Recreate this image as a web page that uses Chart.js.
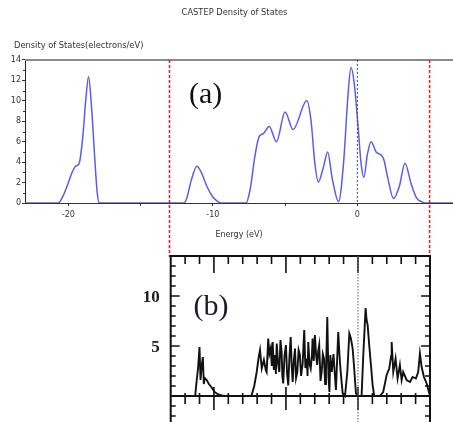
<!DOCTYPE html>
<html>
<head>
<meta charset="utf-8">
<title>CASTEP Density of States</title>
<script src="https://cdn.jsdelivr.net/npm/chart.js@4.4.0/dist/chart.umd.min.js"></script>
<style>
    html, body { margin: 0; padding: 0; background: #fff; }
    #wrap { position: relative; width: 453px; height: 422px; overflow: hidden; }
    #dosA { position: absolute; left: 0; top: 0; }
    #dosB { position: absolute; left: 130px; top: 240px; }
</style>
</head>
<body>
<div id="wrap">
    <canvas id="dosA" width="453" height="257"></canvas>
    <canvas id="dosB" width="323" height="182"></canvas>
</div>
<script>
// panel (a): CASTEP total DOS
var energyA = [-23, -21, -20.7, -20.4, -20.1, -19.8, -19.5, -19.25, -19.0, -18.8, -18.6, -18.4, -18.2, -18.0, -17.85,
    -13, -12.0, -11.8, -11.5, -11.1, -10.8, -10.4, -10.0, -9.6, -9.4,
    -7.7, -7.4, -7.1, -6.8, -6.5, -6.1, -5.6, -5.0, -4.45, -3.5, -3.2, -2.95, -2.7, -2.35, -2.05, -1.75, -1.3,
    -0.95, -0.65, -0.44, -0.2, 0.05, 0.25, 0.45, 0.7, 0.95, 1.3, 1.8, 2.1, 2.5, 2.9, 3.3, 3.7, 4.1, 4.5, 4.8, 6.62]
var dosA = [0, 0, 0, 0.6, 1.6, 2.8, 3.6, 3.9, 6.5, 10.0, 12.35, 9.5, 5.0, 1.0, 0,
    0, 0, 0.5, 2.2, 3.6, 3.0, 1.6, 0.6, 0.1, 0,
    0, 1.5, 4.5, 6.5, 6.8, 7.5, 6.0, 8.9, 7.2, 10.0, 8.0, 4.0, 2.05, 3.5, 5.0, 2.5, 0.15,
    4.0, 10.5, 13.25, 11.5, 7.5, 4.0, 2.5, 4.8, 6.0, 5.0, 4.4, 2.5, 0.45, 1.6, 3.9, 2.0, 0.5, 0.1, 0, 0]

// panel (b): reference DOS
var energyB = [-13, -11.3, -11.2, -11.1, -11.0, -10.93, -10.85, -10.77, -10.7, -10.64, -10.5, -10.35, -10.18, -9.95, -9.7, -9.45, -9.2,
    -7.4, -7.2, -7.03, -6.9, -6.8, -6.68, -6.53, -6.4, -6.34, -6.23, -6.15, -6.06, -5.98, -5.92, -5.84, -5.76, -5.7, -5.64,
    -5.55, -5.46, -5.38, -5.3, -5.25, -5.19, -5.1, -5.0, -4.92, -4.84, -4.76, -4.67, -4.6, -4.53, -4.45, -4.37, -4.3, -4.21,
    -4.12, -4.03, -3.95, -3.84, -3.73, -3.65, -3.56, -3.5, -3.45, -3.36, -3.28, -3.2, -3.15, -3.07, -2.99, -2.9, -2.83, -2.76,
    -2.69, -2.6, -2.52, -2.44, -2.36, -2.28, -2.22, -2.13, -2.05, -1.98, -1.92, -1.82, -1.7, -1.6, -1.53, -1.45, -1.37, -1.28,
    -1.2, -1.06, -0.9, -0.74, -0.6, -0.49, -0.37, -0.28, -0.14, 0.0, 0.25, 0.37, 0.53, 0.6, 0.67, 0.78, 0.9, 1.02, 1.13,
    1.52, 1.75, 1.99, 2.17, 2.3, 2.34, 2.45, 2.61, 2.75, 2.91, 3.03, 3.14, 3.38, 3.61, 3.79, 4.02, 4.18, 4.3, 4.42, 4.58,
    4.77, 4.95, 5.0]
var dosB = [0, 0, 1.5, 2.8, 4.9, 1.6, 3.0, 3.9, 1.2, 1.8, 1.6, 1.2, 0.9, 0.4, 0.15, 0.05, 0,
    0, 1.0, 2.4, 3.8, 4.6, 2.75, 3.6, 2.6, 2.4, 5.75, 4.2, 4.75, 3.0, 5.4, 2.6, 4.1, 2.2, 5.25,
    3.3, 2.4, 5.6, 4.4, 2.0, 1.25, 4.0, 5.1, 2.2, 1.07, 3.8, 5.9, 3.0, 1.4, 3.6, 4.75, 1.8, 2.4,
    4.6, 4.1, 2.0, 3.25, 6.6, 2.8, 3.75, 2.0, 5.4, 3.2, 2.75, 4.0, 5.75, 3.5, 6.1, 4.0, 3.1, 4.5,
    5.1, 1.5, 2.4, 4.2, 3.75, 1.2, 2.4, 7.9, 2.0, 0.4, 4.1, 2.4, 4.2, 2.0, 0.6, 3.5, 6.4, 4.0,
    2.4, 0.25, 0, 2.4, 6.25, 5.75, 4.75, 3.1, 0.25, 0, 0, 4.1, 8.8, 7.6, 7.1, 5.1, 3.1, 1.07, 0,
    0, 0.4, 2.1, 2.75, 4.0, 5.4, 2.4, 3.75, 1.75, 3.1, 1.6, 2.4, 1.6, 1.4, 1.9, 1.75, 2.4, 4.25, 2.9, 1.9,
    1.25, 0.25, 0.1]

var xTicksA = [-20, -15, -10, -5, 0]
var xLabelsA = ['-20', '', '-10', '', '0']
var yTicksB = [5, 10]
var windowB = [-13, 5]   // energy window shown in panel (b)
var fermi = 0

Chart.defaults.font.family = "'DejaVu Sans', sans-serif"
Chart.defaults.color = '#333'
Chart.defaults.animation = false

function toXY(xs, ys) {
    return xs.map(function (e, i) { return { x: e, y: ys[i] } })
}

function seg(ctx, x1, y1, x2, y2) {
    ctx.moveTo(x1, y1)
    ctx.lineTo(x2, y2)
}

const frameA = {
    id: 'frameA',
    afterDraw(chart) {
        const { ctx, chartArea: a } = chart
        const x = chart.scales.x, y = chart.scales.y
        ctx.save()
        // grey top border
        ctx.strokeStyle = '#8a8a8a'
        ctx.lineWidth = 2
        ctx.beginPath()
        seg(ctx, a.left, a.top, a.right, a.top)
        ctx.stroke()
        // minor y ticks
        ctx.strokeStyle = '#333'
        ctx.lineWidth = 1
        ctx.beginPath()
        for (let v = 1; v < 14; v += 2) {
            const py = Math.round(y.getPixelForValue(v)) + 0.5
            seg(ctx, a.left - 2, py, a.left, py)
        }
        ctx.stroke()
        // Fermi level
        ctx.setLineDash([2, 2])
        ctx.strokeStyle = '#444'
        ctx.beginPath()
        const pf = x.getPixelForValue(fermi)
        seg(ctx, pf, a.top, pf, a.bottom)
        ctx.stroke()
        // window of panel (b)
        ctx.setLineDash([3, 2])
        ctx.strokeStyle = '#e2262b'
        ctx.lineWidth = 1.6
        ctx.beginPath()
        windowB.forEach(function (e) {
            const px = x.getPixelForValue(e)
            seg(ctx, px, a.top, px, chart.height)
        })
        ctx.stroke()
        ctx.setLineDash([])
        // headings
        ctx.fillStyle = '#333'
        ctx.font = "8.3px 'DejaVu Sans', sans-serif"
        ctx.textBaseline = 'middle'
        ctx.textAlign = 'center'
        ctx.fillText('CASTEP Density of States', (a.left + a.right) / 2 - 4.5, 13)
        ctx.textAlign = 'left'
        ctx.fillText('Density of States(electrons/eV)', a.left - 11, a.top - 14)
        // panel label
        ctx.fillStyle = '#111'
        ctx.font = "30px 'Liberation Serif', serif"
        ctx.textAlign = 'center'
        ctx.fillText('(a)', x.getPixelForValue(-10.5), y.getPixelForValue(10.6))
        ctx.restore()
    }
}

const frameB = {
    id: 'frameB',
    afterDraw(chart) {
        const { ctx, chartArea: a } = chart
        const x = chart.scales.x, y = chart.scales.y
        const y0 = y.getPixelForValue(0)
        ctx.save()
        ctx.strokeStyle = '#111'
        ctx.lineWidth = 2
        ctx.beginPath()
        ctx.moveTo(a.left, a.bottom)
        ctx.lineTo(a.left, a.top)
        ctx.lineTo(a.right, a.top)
        ctx.lineTo(a.right, a.bottom)
        seg(ctx, a.left, y0, a.right, y0)
        ctx.stroke()
        // inward ticks
        ctx.lineWidth = 1.6
        ctx.beginPath()
        for (let e = windowB[0] + 1; e < windowB[1]; e++) {
            const px = x.getPixelForValue(e), major = e % 5 === 0
            seg(ctx, px, a.top, px, a.top + (major ? 17 : 8))
            seg(ctx, px, y0 - (major ? 9 : 3), px, y0 + (major ? 14 : 8))
        }
        for (let v = -2; v <= 13; v++) {
            if (v === 0) continue
            const py = y.getPixelForValue(v), len = v % 5 === 0 ? 9 : 5
            seg(ctx, a.left, py, a.left + len, py)
            seg(ctx, a.right, py, a.right - len, py)
        }
        ctx.stroke()
        // Fermi level
        ctx.setLineDash([1.5, 1.5])
        ctx.strokeStyle = '#777'
        ctx.lineWidth = 1.2
        ctx.beginPath()
        const pf = x.getPixelForValue(fermi)
        seg(ctx, pf, a.top, pf, a.bottom)
        ctx.stroke()
        ctx.setLineDash([])
        ctx.fillStyle = '#1c1c30'
        ctx.font = "30px 'Liberation Serif', serif"
        ctx.textAlign = 'center'
        ctx.textBaseline = 'middle'
        ctx.fillText('(b)', x.getPixelForValue(-10.2), y.getPixelForValue(8.9))
        ctx.restore()
    }
}

var chartA = new Chart(document.getElementById('dosA'), {
    type: 'line',
    data: {
        datasets: [{
            data: toXY(energyA, dosA),
            borderColor: 'rgb(92, 92, 234)',
            borderWidth: 1.5,
            pointRadius: 0,
            cubicInterpolationMode: 'monotone',
            fill: false
        }]
    },
    options: {
        responsive: false,
        layout: { padding: { left: 0, right: 0, top: 59.9, bottom: 17.4 } },
        plugins: {
            legend: { display: false },
            tooltip: { enabled: false }
        },
        scales: {
            x: {
                type: 'linear',
                min: -23,
                max: 6.62,
                afterBuildTicks: function (scale) {
                    scale.ticks = xTicksA.map(function (v) { return { value: v } })
                },
                ticks: {
                    font: { size: 8 },
                    padding: 4,
                    maxRotation: 0,
                    callback: function (v) { return xLabelsA[xTicksA.indexOf(v)] }
                },
                grid: { drawOnChartArea: false, color: '#333', tickLength: 3 },
                border: { color: '#333', width: 1 },
                title: { display: true, text: 'Energy (eV)', font: { size: 8 }, padding: { top: 6.3, bottom: 0 } }
            },
            y: {
                min: 0,
                max: 14,
                afterFit: function (scale) {
                    scale.width = 25
                    scale.paddingTop = 0
                },
                ticks: { stepSize: 2, font: { size: 8 }, padding: 1 },
                grid: { drawOnChartArea: false, color: '#333', tickLength: 3 },
                border: { color: '#222', width: 1 }
            }
        }
    },
    plugins: [frameA]
})

var chartB = new Chart(document.getElementById('dosB'), {
    type: 'line',
    data: {
        datasets: [{
            data: toXY(energyB, dosB),
            borderColor: '#111',
            borderWidth: 1.9,
            pointRadius: 0,
            tension: 0,
            fill: false
        }]
    },
    options: {
        responsive: false,
        layout: { padding: { left: 0, right: 23, top: 16, bottom: 0 } },
        plugins: { legend: { display: false }, tooltip: { enabled: false } },
        scales: {
            x: { type: 'linear', display: false, min: windowB[0], max: windowB[1] },
            y: {
                min: -2.6,
                max: 14,
                afterFit: function (scale) {
                    scale.width = 40.7
                    scale.paddingTop = 0
                    scale.paddingBottom = 0
                },
                afterBuildTicks: function (scale) {
                    scale.ticks = yTicksB.map(function (v) { return { value: v } })
                },
                ticks: {
                    font: { family: "'Liberation Serif', serif", size: 17, weight: 'bold' },
                    color: '#222',
                    padding: 3,
                    labelOffset: 2
                },
                grid: { display: false },
                border: { display: false }
            }
        }
    },
    plugins: [frameB]
})
</script>
</body>
</html>
